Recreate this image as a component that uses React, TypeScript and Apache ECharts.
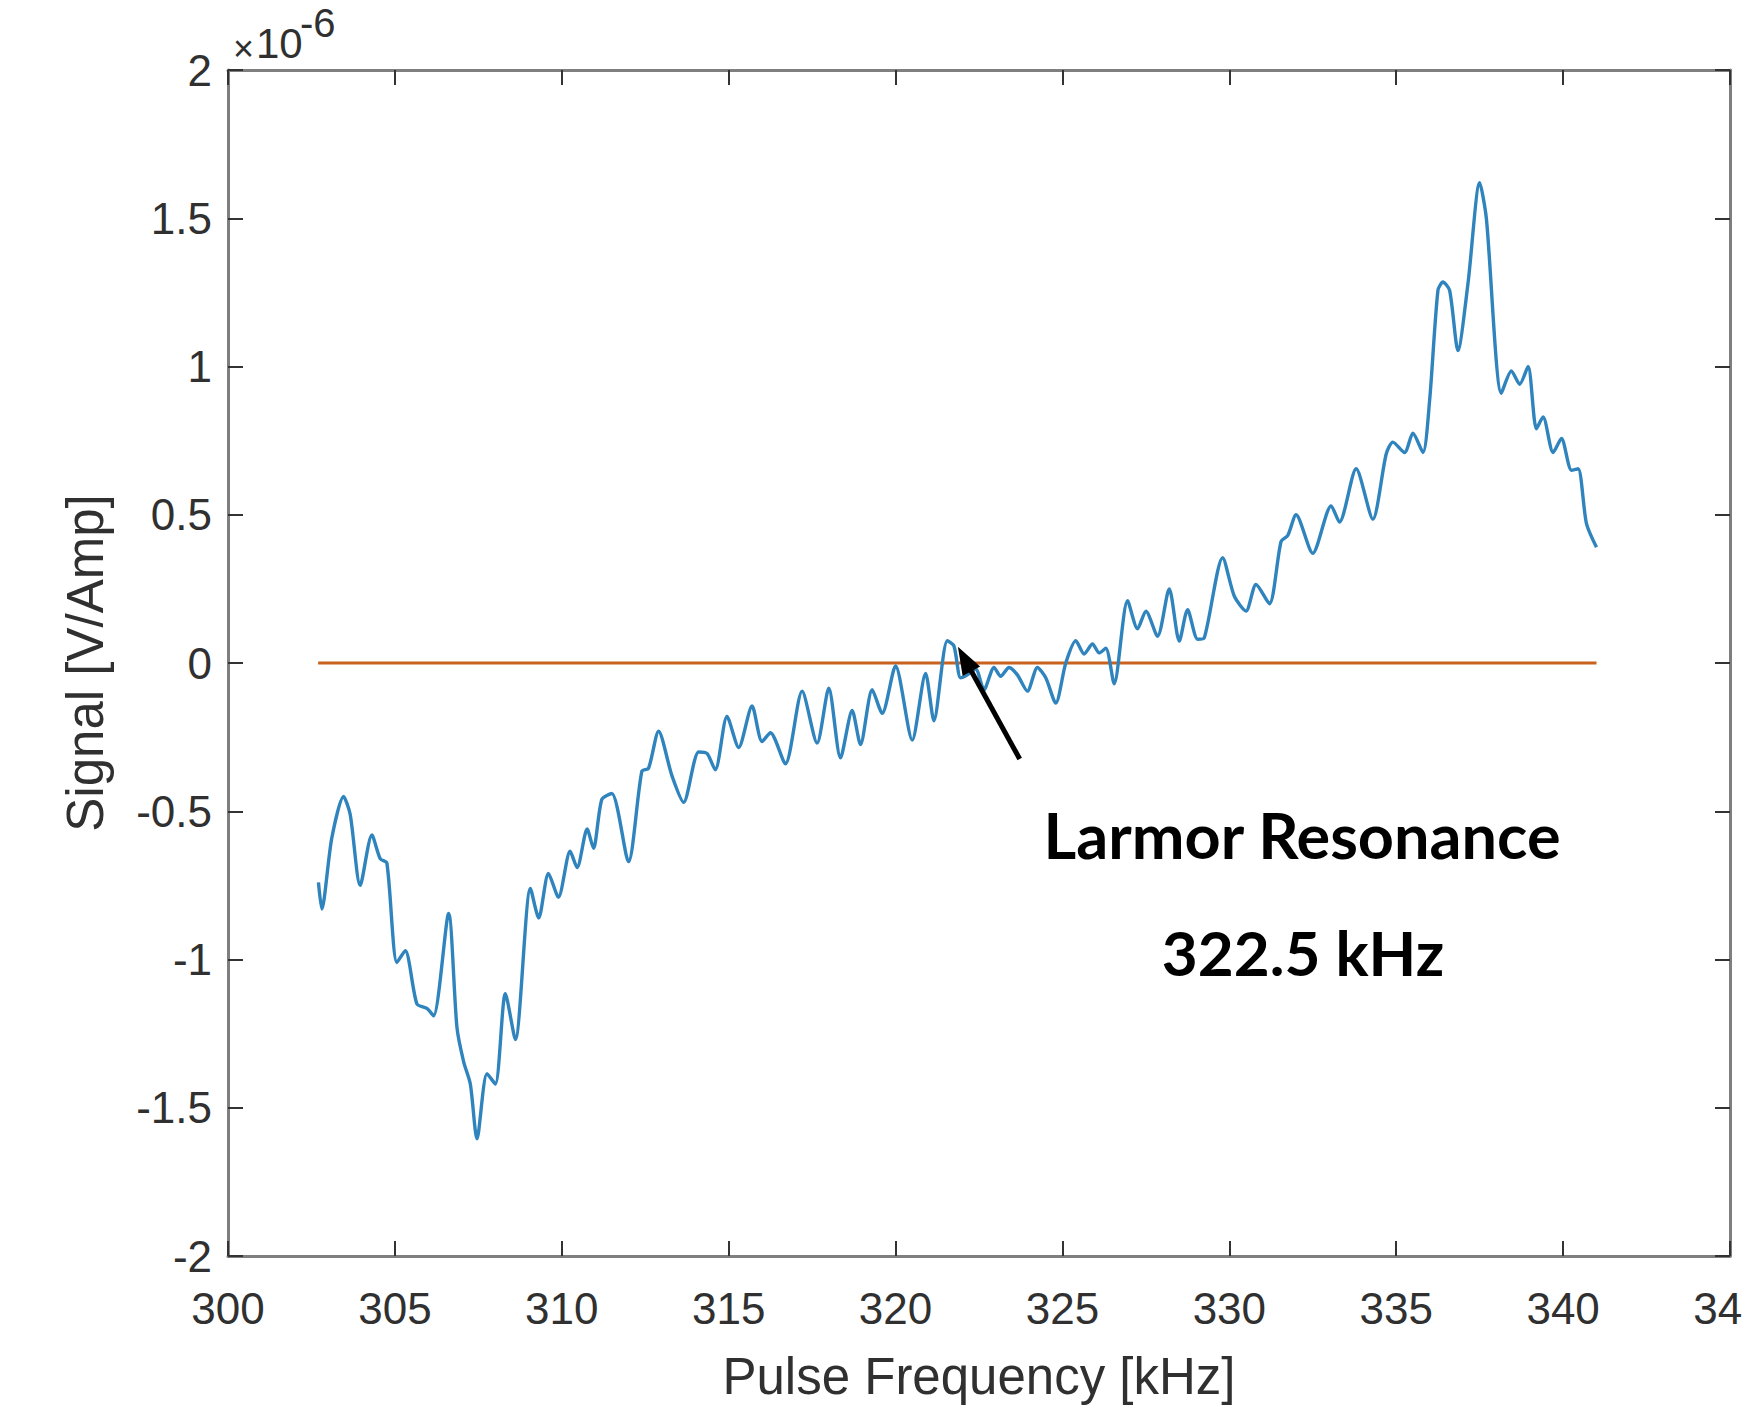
import React, { useEffect, useRef } from "react";
import * as echarts from "echarts";

// Pulse frequency in kHz
const freqKHz = [
  302.71, 302.81, 303.11, 303.46, 303.66, 303.96, 304.31, 304.56, 304.76, 305.06,
  305.31, 305.66, 305.96, 306.16, 306.61, 306.86, 307.06, 307.26, 307.46, 307.76,
  308.01, 308.31, 308.61, 309.06, 309.31, 309.6, 309.9, 310.25, 310.46, 310.76,
  310.95, 311.2, 311.5, 312.0, 312.4, 312.6, 312.9, 313.3, 313.65, 314.1,
  314.35, 314.6, 314.95, 315.3, 315.7, 316.0, 316.25, 316.7, 317.2, 317.65,
  318.0, 318.35, 318.7, 318.95, 319.3, 319.6, 320.0, 320.5, 320.9, 321.15,
  321.55, 321.75, 321.95, 322.15, 322.4, 322.65, 322.95, 323.15, 323.4, 323.65,
  323.95, 324.25, 324.5, 324.8, 325.1, 325.4, 325.65, 325.9, 326.1, 326.3,
  326.55, 326.95, 327.25, 327.5, 327.85, 328.2, 328.5, 328.75, 329.05, 329.25,
  329.8, 330.15, 330.5, 330.8, 331.2, 331.55, 331.75, 332.0, 332.5, 333.05,
  333.3, 333.8, 334.3, 334.7, 334.9, 335.25, 335.5, 335.8, 336.0, 336.25,
  336.4, 336.6, 336.85, 337.15, 337.5, 337.7, 338.15, 338.45, 338.7, 338.95,
  339.2, 339.4, 339.7, 339.95, 340.25, 340.45, 340.7, 341.0,
];

// Signal in units of 1e-6 V/Amp
const signal = [
  -0.74, -0.83, -0.59, -0.45, -0.51, -0.75, -0.58, -0.66, -0.675, -1.01,
  -0.97, -1.15, -1.165, -1.19, -0.845, -1.23, -1.345, -1.42, -1.605, -1.385,
  -1.42, -1.115, -1.27, -0.76, -0.86, -0.71, -0.79, -0.635, -0.69, -0.56,
  -0.625, -0.46, -0.44, -0.67, -0.365, -0.355, -0.23, -0.38, -0.47, -0.3,
  -0.305, -0.36, -0.18, -0.285, -0.145, -0.265, -0.235, -0.34, -0.095, -0.27,
  -0.085, -0.32, -0.16, -0.275, -0.09, -0.17, -0.01, -0.26, -0.035, -0.195,
  0.075, 0.057, -0.05, -0.04, -0.02, -0.09, -0.015, -0.045, -0.015, -0.04,
  -0.095, -0.015, -0.05, -0.135, 0.0, 0.075, 0.03, 0.064, 0.034, 0.05,
  -0.07, 0.21, 0.115, 0.175, 0.09, 0.25, 0.074, 0.18, 0.08, 0.085,
  0.355, 0.225, 0.175, 0.265, 0.2, 0.41, 0.43, 0.5, 0.37, 0.53,
  0.475, 0.655, 0.485, 0.705, 0.745, 0.71, 0.775, 0.71, 0.885, 1.257,
  1.285, 1.257, 1.054, 1.28, 1.62, 1.5, 0.91, 0.985, 0.94, 1.0,
  0.79, 0.83, 0.71, 0.757, 0.65, 0.655, 0.47, 0.39,
];

// Reference (zero) line
const refFreq = [302.7, 341.0];
const refSignal = [0, 0];

// Annotation arrow (data coords): tail -> tip
const arrowTail = [323.72, -0.324];
const arrowTip = [322.07, 0.0135];

const xMin = 300;
const xMax = 345;
const xStep = 5;
const yMin = -2;
const yMax = 2;
const yStep = 0.5;

const annotationLine1 = "Larmor Resonance";
const annotationLine2 = "322.5 kHz";

export default function App() {
  const ref = useRef<HTMLDivElement>(null);

  useEffect(() => {
    if (!ref.current) return;
    document.documentElement.style.overflow = "hidden";
    document.body.style.margin = "0";
    document.body.style.overflow = "hidden";
    const chart = echarts.init(ref.current, undefined, { renderer: "svg", width: 1742, height: 1405 });

    const font = "'Liberation Sans', Arial, Helvetica, sans-serif";
    const axisGray = "#7f7f7f";
    const tickColor = "#333333";
    const labelColor = "#303030";

    const baseX = {
      type: "value" as const,
      min: xMin,
      max: xMax,
      interval: xStep,
      splitLine: { show: false },
      axisLine: { show: true, onZero: false, lineStyle: { color: axisGray, width: 3 } },
      axisTick: { show: true, inside: true, length: 15, lineStyle: { color: tickColor, width: 2 } },
    };
    const baseY = {
      type: "value" as const,
      min: yMin,
      max: yMax,
      interval: yStep,
      splitLine: { show: false },
      axisLine: { show: true, onZero: false, lineStyle: { color: axisGray, width: 3 } },
      axisTick: { show: true, inside: true, length: 15, lineStyle: { color: tickColor, width: 2 } },
    };

    chart.setOption({
      animation: false,
      backgroundColor: "#ffffff",
      grid: {
        left: 228,
        right: 12,
        top: 70,
        bottom: 149,
        containLabel: false,
        outerBoundsMode: "none",
      },
      xAxis: [
        {
          ...baseX,
          position: "bottom",
          name: "Pulse Frequency [kHz]",
          nameLocation: "middle",
          nameGap: 95,
          nameTextStyle: { fontFamily: font, fontSize: 51, color: labelColor },
          axisLabel: { show: true, margin: 30, fontFamily: font, fontSize: 44, color: labelColor },
        },
        {
          ...baseX,
          position: "top",
          axisLabel: { show: false },
        },
      ],
      yAxis: [
        {
          ...baseY,
          position: "left",
          name: "Signal [V/Amp]",
          nameLocation: "middle",
          nameGap: 117,
          nameRotate: 90,
          nameTextStyle: { fontFamily: font, fontSize: 51, color: labelColor },
          axisLabel: {
            show: true,
            margin: 16,
            fontFamily: font,
            fontSize: 44,
            color: labelColor,
            formatter: (v: number) => String(v),
          },
        },
        {
          ...baseY,
          position: "right",
          axisLabel: { show: false },
        },
      ],
      series: [
        {
          type: "line",
          name: "Reference",
          data: refFreq.map((f, i) => [f, refSignal[i]]),
          showSymbol: false,
          symbol: "none",
          lineStyle: { color: "#c8621e", width: 2.8 },
          z: 2,
        },
        {
          type: "line",
          name: "Signal",
          data: freqKHz.map((f, i) => [f, signal[i]]),
          showSymbol: false,
          symbol: "none",
          smooth: 0.25,
          lineStyle: { color: "#2f84bd", width: 3.4 },
          z: 3,
          markLine: {
            silent: true,
            symbol: ["none", "triangle"],
            symbolSize: [20, 28],
            label: { show: false },
            lineStyle: { color: "#000000", width: 5, type: "solid" },
            data: [[{ coord: arrowTail }, { coord: arrowTip }]],
          },
        },
      ],
      graphic: [
        {
          type: "text",
          left: 233,
          top: 30,
          style: { text: "×", fontFamily: font, fontSize: 36, fill: labelColor },
        },
        {
          type: "text",
          left: 256,
          top: 22,
          style: { text: "10", fontFamily: font, fontSize: 42, fill: labelColor },
        },
        {
          type: "text",
          left: 300,
          top: 3,
          style: { text: "-6", fontFamily: font, fontSize: 40, fill: labelColor },
        },
        {
          type: "text",
          x: 1302,
          y: 834,
          style: {
            text: annotationLine1,
            fontFamily: "Lato, 'Open Sans', sans-serif",
            fontWeight: "bold",
            fontSize: 63,
            fill: "#000000",
            align: "center",
            verticalAlign: "middle",
          },
        },
        {
          type: "text",
          x: 1303,
          y: 952,
          style: {
            text: annotationLine2,
            fontFamily: "Lato, 'Open Sans', sans-serif",
            fontWeight: "bold",
            fontSize: 62,
            fill: "#000000",
            align: "center",
            verticalAlign: "middle",
          },
        },
      ],
    });

    return () => {
      chart.dispose();
    };
  }, []);

  return (
    <div
      ref={ref}
      style={{ position: "absolute", left: 0, top: 0, width: 1742, height: 1405, background: "#fff" }}
    />
  );
}
